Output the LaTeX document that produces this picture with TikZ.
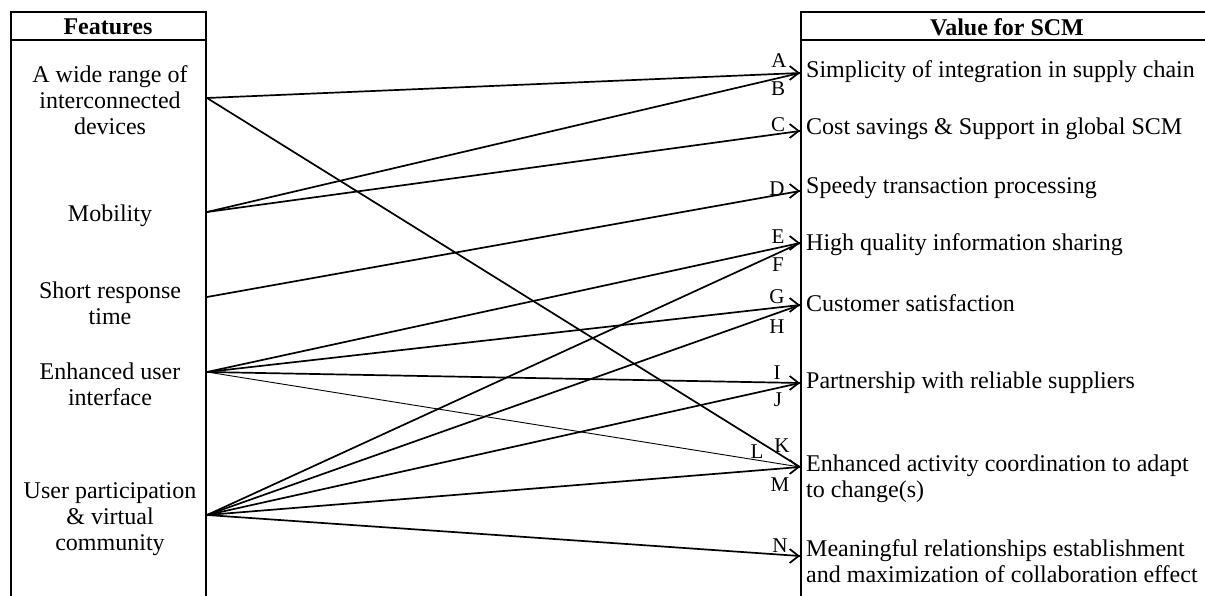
\documentclass[tikz,border=0pt]{standalone}
\usepackage{fontspec}
\setmainfont{Liberation Serif}
\usetikzlibrary{arrows.meta}
\begin{document}
\begin{tikzpicture}[x=1pt,y=-1pt,
  boxline/.style={line width=2pt},
  link/.style={line width=1.7pt},
  thinlink/.style={line width=0.9pt},
  head/.style={line width=1.7pt,-{Straight Barb[length=9pt,width=14pt,line width=1.7pt]}},
  feat/.style={align=center,inner sep=0pt,font=\fontsize{24}{26}\selectfont},
  val/.style={anchor=west,align=left,inner sep=0pt,font=\fontsize{24}{26}\selectfont},
  hdr/.style={inner sep=0pt,font=\fontsize{24}{26}\selectfont\bfseries},
  lbl/.style={inner sep=0pt,font=\fontsize{21}{22}\selectfont}]
\useasboundingbox (0,0) rectangle (1205,596);
% boxes
\draw[boxline] (11,596) -- (11,12) -- (206,12) -- (206,596);
\draw[boxline] (11,40) -- (206,40);
\draw[boxline] (1205,12) -- (801,12) -- (801,596);
\draw[boxline] (801,40) -- (1205,40);
% headers
\node[hdr] (hF) at (108,27) {Features};
\node[hdr] (hV) at (1007,27) {Value for SCM};
% features
\node[feat] (fDev) at (110,100) {A wide range of\\interconnected\\devices};
\node[feat] (fMob) at (110,216) {Mobility};
\node[feat] (fShort) at (110,303) {Short response\\time};
\node[feat] (fUI) at (110,384) {Enhanced user\\interface};
\node[feat] (fUser) at (110,519) {User participation\\\& virtual\\community};
% values
\node[val] (vA) at (806,72) {Simplicity of integration in supply chain};
\node[val] (vC) at (806,129) {Cost savings \& Support in global SCM};
\node[val] (vD) at (806,188) {Speedy transaction processing};
\node[val] (vE) at (806,245) {High quality information sharing};
\node[val] (vG) at (806,303) {Customer satisfaction};
\node[val] (vI) at (806,383) {Partnership with reliable suppliers};
\node[val] (vK) at (806,479) {Enhanced activity coordination to adapt\\to change(s)};
\node[val] (vN) at (806,561) {Meaningful relationships establishment\\and maximization of collaboration effect};
% source points
\coordinate (sDev) at (207,98);
\coordinate (sMob) at (207,212);
\coordinate (sShort) at (207,297);
\coordinate (sUI) at (207,372);
\coordinate (sUser) at (207,515);
% target points
\coordinate (tA) at (800,73);
\coordinate (tC) at (800,131);
\coordinate (tD) at (800,191);
\coordinate (tE) at (800,243);
\coordinate (tG) at (800,305);
\coordinate (tI) at (800,383);
\coordinate (tK) at (800,467);
\coordinate (tN) at (800,556);
% connectors
\draw[link] (sDev) -- (tA);
\draw[link] (sDev) -- (tK);
\draw[link] (sMob) -- (tA);
\draw[link] (sMob) -- (tC);
\draw[link] (sShort) -- (tD);
\draw[link] (sUI) -- (tE);
\draw[link] (sUI) -- (tG);
\draw[link] (sUI) -- (tI);
\draw[thinlink] (sUI) -- (tK);
\draw[link] (sUser) -- (tE);
\draw[link] (sUser) -- (tG);
\draw[link] (sUser) -- (tI);
\draw[link] (sUser) -- (tK);
\draw[link] (sUser) -- (tN);
% arrow heads
\foreach \t in {tA,tC,tD,tE,tG,tI,tK,tN}
  \draw[head] ([xshift=-2pt]\t) -- (\t);
% letter labels
\node[lbl] (lA) at (779,61) {A};
\node[lbl] (lB) at (778,89) {B};
\node[lbl] (lC) at (778,125) {C};
\node[lbl] (lD) at (777,189) {D};
\node[lbl] (lE) at (778,237) {E};
\node[lbl] (lF) at (778,265) {F};
\node[lbl] (lG) at (777,297) {G};
\node[lbl] (lH) at (777,327) {H};
\node[lbl] (lI) at (777,373) {I};
\node[lbl] (lJ) at (778,400) {J};
\node[lbl] (lK) at (782,446) {K};
\node[lbl] (lL) at (757,452) {L};
\node[lbl] (lM) at (780,485) {M};
\node[lbl] (lN) at (780,546) {N};
\end{tikzpicture}
\end{document}
